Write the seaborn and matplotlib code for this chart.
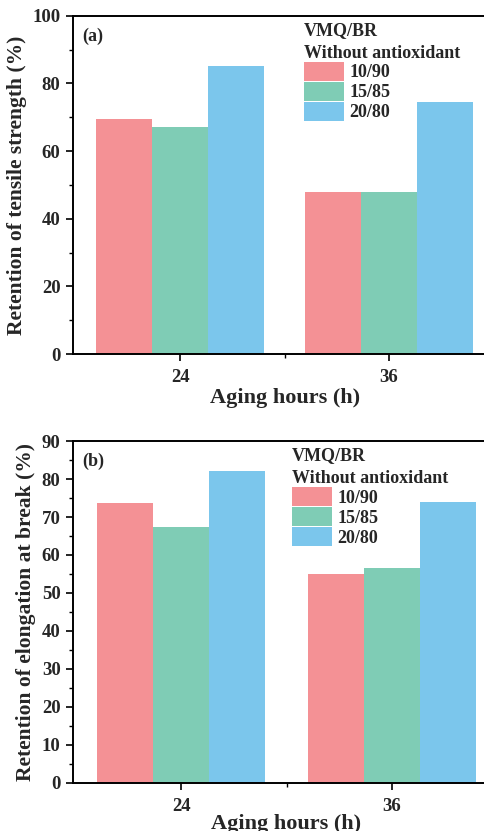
import matplotlib
matplotlib.use("Agg")
import matplotlib.pyplot as plt
import seaborn as sns
import pandas as pd
from matplotlib.ticker import MultipleLocator, FixedLocator

hours = ["24", "36"]
ratios = ["10/90", "15/85", "20/80"]
tensile_10_90 = [69.4, 48.0]
tensile_15_85 = [67.2, 48.0]
tensile_20_80 = [85.3, 74.4]
elong_10_90 = [73.7, 55.1]
elong_15_85 = [67.5, 56.7]
elong_20_80 = [82.1, 73.9]
colors = ["#F49195", "#7FCCB5", "#7BC6EC"]

sns.set_theme(style="white")
plt.rcParams['font.family'] = ['Liberation Serif', 'DejaVu Serif']
plt.rcParams['font.weight'] = 'bold'
plt.rcParams['axes.labelweight'] = 'bold'


def make_df(a, b, c):
    rows = []
    for r, vals in zip(ratios, [a, b, c]):
        for h, v in zip(hours, vals):
            rows.append({"hours": h, "ratio": r, "value": v})
    return pd.DataFrame(rows)


fig = plt.figure(figsize=(4.84, 8.31), dpi=100)
ax1 = fig.add_axes([0.151, 0.574, 0.874, 0.407])
ax2 = fig.add_axes([0.151, 0.0578, 0.882, 0.4115])

panels = [
    (ax1, make_df(tensile_10_90, tensile_15_85, tensile_20_80), 100, 20, 10,
     "Retention of tensile strength (%)", "(a)", (0.516, 1.02), 1),
    (ax2, make_df(elong_10_90, elong_15_85, elong_20_80), 90, 10, 5,
     "Retention of elongation at break (%)", "(b)", (0.483, 1.02), -1),
]

for ax, df, ymax, major, minor, ylabel, tag, anchor, xpad in panels:
    sns.barplot(data=df, x="hours", y="value", hue="ratio", hue_order=ratios,
                palette=colors, width=0.8, gap=0, saturation=1, ax=ax,
                errorbar=None, legend=True, linewidth=0)
    ax.set_xlim(-0.512, 1.512)
    ax.set_ylim(0, ymax)
    ax.yaxis.set_major_locator(MultipleLocator(major))
    ax.yaxis.set_minor_locator(MultipleLocator(minor))
    ax.xaxis.set_minor_locator(FixedLocator([0.5]))
    for s in ax.spines.values():
        s.set_linewidth(1.4)
        s.set_color("black")
    ax.tick_params(axis="both", which="major", direction="out", length=5,
                   width=1.2, labelsize=13.5, color="black", left=True, bottom=True,
                   pad=4)
    ax.tick_params(axis="x", which="major", pad=6)
    ax.tick_params(axis="both", which="minor", direction="out", length=3,
                   width=1.0, color="black", left=True, bottom=True)
    for lab in ax.get_xticklabels() + ax.get_yticklabels():
        lab.set_fontweight("bold")
    ax.set_xlabel("Aging hours (h)", fontsize=16, fontweight="bold", labelpad=xpad)
    ax.set_ylabel(ylabel, fontsize=15.5, fontweight="bold", labelpad=4)
    ax.text(0.022, 0.965, tag, transform=ax.transAxes, ha="left", va="top",
            fontsize=13, fontweight="bold")
    handles, labels = ax.get_legend_handles_labels()
    leg = ax.legend(handles, labels, title="VMQ/BR\nWithout antioxidant",
                    loc="upper left", bbox_to_anchor=anchor,
                    frameon=False, fontsize=13, title_fontsize=13,
                    handlelength=2.2, handleheight=1.25, labelspacing=0.02,
                    handletextpad=0.3, borderpad=0.2, alignment="left")
    leg.get_title().set_fontweight("bold")
    leg.get_title().set_linespacing(1.45)
    for t in leg.get_texts():
        t.set_fontweight("bold")

fig.savefig("out.png", dpi=100)
